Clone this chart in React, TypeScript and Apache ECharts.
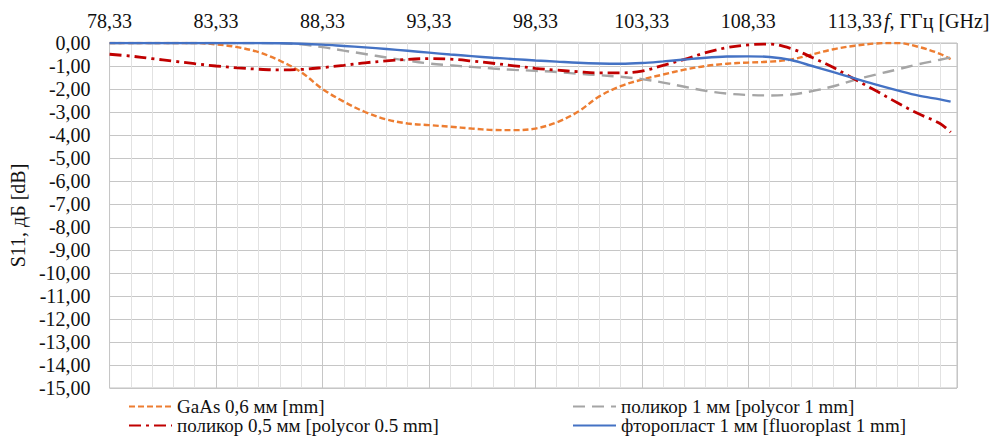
import React, { useEffect, useRef } from 'react';
import * as echarts from 'echarts';

const F0 = 78.33;
const X_END = 118.13;

const freqs = [
  78.33, 79.33, 80.33, 81.33, 82.33, 83.33, 84.33, 85.33, 86.33, 87.33,
  88.33, 89.33, 90.33, 91.33, 92.33, 93.33, 94.33, 95.33, 96.33, 97.33,
  98.33, 99.33, 100.33, 101.33, 102.33, 103.33, 104.33, 105.33, 106.33, 107.33,
  108.33, 109.33, 110.33, 111.33, 112.33, 113.33, 114.33, 115.33, 116.33, 117.33,
  117.83,
];

const seriesNames = [
  'GaAs 0,6 мм [mm]',
  'поликор 1 мм [polycor 1 mm]',
  'поликор 0,5 мм [polycor 0.5 mm]',
  'фторопласт 1 мм [fluoroplast 1 mm]',
];

const gaas = [
  0, 0, 0, 0, 0, -0.06, -0.18, -0.4, -0.77, -1.27,
  -2.0, -2.55, -3.0, -3.32, -3.5, -3.57, -3.64, -3.72, -3.78, -3.79,
  -3.72, -3.45, -2.99, -2.32, -1.88, -1.59, -1.37, -1.16, -1.0, -0.9,
  -0.85, -0.81, -0.72, -0.5, -0.27, -0.12, -0.02, 0, -0.17, -0.47,
  -0.7,
];

const polycor1 = [
  0, 0, 0, 0, 0, 0, 0, 0, -0.01, -0.06,
  -0.18, -0.33, -0.48, -0.63, -0.77, -0.89, -0.97, -1.04, -1.11, -1.17,
  -1.21, -1.26, -1.34, -1.4, -1.47, -1.57, -1.72, -1.9, -2.08, -2.2,
  -2.26, -2.28, -2.24, -2.09, -1.88, -1.6, -1.37, -1.15, -0.92, -0.73,
  -0.63,
];

const polycor05 = [
  -0.49, -0.57, -0.68, -0.79, -0.9, -1.0, -1.08, -1.14, -1.17, -1.15,
  -1.07, -0.97, -0.86, -0.78, -0.71, -0.68, -0.7, -0.78, -0.88, -0.99,
  -1.1, -1.18, -1.25, -1.3, -1.3, -1.22, -0.97, -0.71, -0.42, -0.2,
  -0.08, -0.05, -0.24, -0.63, -1.07, -1.58, -2.08, -2.6, -3.08, -3.5,
  -3.88,
];

const fluoroplast = [
  0, 0, 0, 0, 0, 0, 0, 0, -0.01, -0.03,
  -0.07, -0.13, -0.19, -0.26, -0.34, -0.42, -0.5, -0.57, -0.64, -0.7,
  -0.76, -0.81, -0.86, -0.89, -0.9, -0.87, -0.8, -0.72, -0.64, -0.59,
  -0.58, -0.61, -0.74, -1.0, -1.27, -1.54, -1.81, -2.06, -2.29, -2.45,
  -2.55,
];

const seriesValues = [gaas, polycor1, polycor05, fluoroplast];
const seriesColors = ['#ED7D31', '#A5A5A5', '#C00000', '#4472C4'];
const seriesDash: any[] = [[6, 3], [12, 7], [12, 5, 3, 5], 'solid'];
const seriesWidths = [2.4, 2.4, 2.8, 2.4];

const yMin = -15;
const yMax = 0;

const FONT = 'Liberation Serif';
const fmt = (v: number) => v.toFixed(2).replace('.', ',');

const legendBase = {
  orient: 'vertical',
  top: 397,
  height: 48,
  padding: 0,
  itemWidth: 43,
  itemHeight: 12,
  itemGap: 0,
  selectedMode: false,
  itemStyle: { opacity: 0 },
  textStyle: { fontSize: 19, fontFamily: FONT, color: '#111', lineHeight: 18 },
};

export default function App() {
  const ref = useRef<HTMLDivElement>(null);

  useEffect(() => {
    if (!ref.current) return;
    const chart = echarts.init(ref.current, undefined, { renderer: 'svg' });
    const option: any = {
      animation: false,
      backgroundColor: '#ffffff',
      textStyle: { fontFamily: FONT },
      grid: {
        left: 103,
        right: 40,
        top: 43,
        bottom: 57,
        show: true,
        borderColor: '#c0c0c0',
        borderWidth: 1,
      },
      xAxis: [
        {
          type: 'value',
          position: 'bottom',
          min: 0,
          max: X_END - F0,
          interval: 1,
          axisLine: { show: false },
          axisTick: { show: false },
          axisLabel: { show: false },
          splitLine: { show: true, lineStyle: { color: '#e2e2e2', width: 1 } },
        },
        {
          type: 'value',
          position: 'top',
          min: 0,
          max: X_END - F0,
          interval: 5,
          axisLine: { show: false },
          axisTick: { show: false },
          axisLabel: {
            show: true,
            showMaxLabel: false,
            margin: 12,
            fontSize: 20,
            fontFamily: FONT,
            color: '#111',
            formatter: (v: number) => fmt(v + F0),
          },
          splitLine: { show: true, lineStyle: { color: '#c6c6c6', width: 1 } },
        },
      ],
      yAxis: {
        type: 'value',
        min: yMin,
        max: yMax,
        interval: 1,
        axisLine: { show: false },
        axisTick: { show: false },
        axisLabel: {
          margin: 19,
          fontSize: 20,
          fontFamily: FONT,
          color: '#111',
          formatter: (v: number) => fmt(v),
        },
        splitLine: { show: true, lineStyle: { color: '#c6c6c6', width: 1 } },
        name: 'S11, дБ [dB]',
        nameLocation: 'middle',
        nameRotate: 90,
        nameGap: 71,
        nameTextStyle: { fontSize: 20, fontFamily: FONT, color: '#111' },
      },
      legend: [
        { ...legendBase, left: 128, data: [seriesNames[0], seriesNames[2]] },
        { ...legendBase, left: 572, data: [seriesNames[1], seriesNames[3]] },
      ],
      graphic: [
        {
          type: 'text',
          x: 884,
          y: 21,
          style: {
            text: '{i|f}, ГГц [GHz]',
            fontSize: 20,
            fontFamily: FONT,
            fill: '#111',
            verticalAlign: 'middle',
            rich: {
              i: { fontStyle: 'italic', fontSize: 20, fontFamily: FONT, color: '#111' },
            },
          },
        },
      ],
      series: seriesNames.map((name, k) => ({
        name,
        type: 'line',
        xAxisIndex: 1,
        yAxisIndex: 0,
        smooth: 0.35,
        symbol: 'none',
        showSymbol: false,
        color: seriesColors[k],
        lineStyle: { color: seriesColors[k], width: seriesWidths[k], type: seriesDash[k] },
        data: freqs.map((f, i) => [f - F0, seriesValues[k][i]]),
        z: 2 + k,
      })),
    };
    chart.setOption(option);
    return () => chart.dispose();
  }, []);

  return (
    <div
      ref={ref}
      style={{ position: 'absolute', left: 0, top: 0, width: 997, height: 445, background: '#fff' }}
    />
  );
}
